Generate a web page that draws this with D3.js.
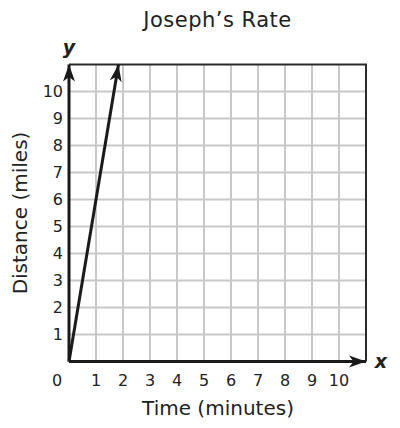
<!DOCTYPE html>
<html><head><meta charset="utf-8">
<script src="https://cdn.jsdelivr.net/npm/d3@7"></script>
<style>body{margin:0;background:#fff}svg{display:block}text{font-family:"DejaVu Sans",Verdana,sans-serif;fill:#222}</style>
</head><body>
<script>
const title = "Joseph\u2019s Rate";
const xTitle = "Time (minutes)";
const yTitle = "Distance (miles)";
const xTicks = [0,1,2,3,4,5,6,7,8,9,10];
const yTicks = [1,2,3,4,5,6,7,8,9,10];
const gridValues = [1,2,3,4,5,6,7,8,9,10];
const lineX = [0, 11/6];
const lineY = [0, 11];
const domainMax = 11;

const W = 400, H = 428;
const svg = d3.select("body").append("svg").attr("width", W).attr("height", H);
const x = d3.scaleLinear().domain([0, domainMax]).range([69, 366]);
const y = d3.scaleLinear().domain([0, domainMax]).range([361.5, 64.5]);

// grid
svg.append("g").selectAll("line").data(gridValues).join("line")
  .attr("x1", d => x(d)).attr("x2", d => x(d)).attr("y1", y(0)).attr("y2", y(domainMax))
  .attr("stroke", "#c8c8c8").attr("stroke-width", 2);
svg.append("g").selectAll("line").data(gridValues).join("line")
  .attr("y1", d => y(d)).attr("y2", d => y(d)).attr("x1", x(0)).attr("x2", x(domainMax))
  .attr("stroke", "#c8c8c8").attr("stroke-width", 2);

// border top & right
svg.append("path")
  .attr("d", `M${x(0)},${y(domainMax)}H${x(domainMax)}V${y(0)}`)
  .attr("fill", "none").attr("stroke", "#2a2a2a").attr("stroke-width", 2);

// arrow marker
const defs = svg.append("defs");
defs.append("marker").attr("id", "arr").attr("viewBox", "-17 -7 18 14")
  .attr("refX", 0).attr("refY", 0).attr("markerWidth", 18).attr("markerHeight", 14)
  .attr("markerUnits", "userSpaceOnUse").attr("orient", "auto")
  .append("path").attr("d", "M0,0L-17,-6L-12.5,0L-17,6Z").attr("fill", "#1a1a1a");

// axes
svg.append("line").attr("x1", x(0)).attr("y1", y(0)).attr("x2", x(0)).attr("y2", y(domainMax))
  .attr("stroke", "#1a1a1a").attr("stroke-width", 3).attr("marker-end", "url(#arr)");
svg.append("line").attr("x1", x(0)).attr("y1", y(0)).attr("x2", x(domainMax)).attr("y2", y(0))
  .attr("stroke", "#1a1a1a").attr("stroke-width", 3).attr("marker-end", "url(#arr)");

// data line
svg.append("path").datum(lineX.map((d, i) => [d, lineY[i]]))
  .attr("d", d3.line().x(d => x(d[0])).y(d => y(d[1])))
  .attr("fill", "none").attr("stroke", "#1a1a1a").attr("stroke-width", 3).attr("marker-end", "url(#arr)");

// tick labels
svg.append("g").selectAll("text").data(xTicks).join("text")
  .attr("x", d => d === 0 ? x(0) - 12 : x(d)).attr("y", 386)
  .attr("text-anchor", "middle").attr("font-size", 16).text(d => d);
svg.append("g").selectAll("text").data(yTicks).join("text")
  .attr("x", 63).attr("y", d => y(d)).attr("dy", "0.36em")
  .attr("text-anchor", "end").attr("font-size", 16).text(d => d);

// titles
svg.append("text").attr("x", 217.5).attr("y", 27).attr("text-anchor", "middle").attr("font-size", 21)
  .attr("letter-spacing", 0.5).text(title);
svg.append("text").attr("x", 218).attr("y", 415).attr("text-anchor", "middle").attr("font-size", 20).text(xTitle);
svg.append("text").attr("transform", "translate(27,213) rotate(-90)").attr("text-anchor", "middle").attr("font-size", 20).text(yTitle);

// axis letters
svg.append("text").attr("x", 69).attr("y", 54).attr("text-anchor", "middle").attr("font-size", 19)
  .attr("font-weight", "bold").attr("font-style", "italic").text("y");
svg.append("text").attr("x", 381).attr("y", 368).attr("text-anchor", "middle").attr("font-size", 19)
  .attr("font-weight", "bold").attr("font-style", "italic").text("x");
</script>
</body></html>
